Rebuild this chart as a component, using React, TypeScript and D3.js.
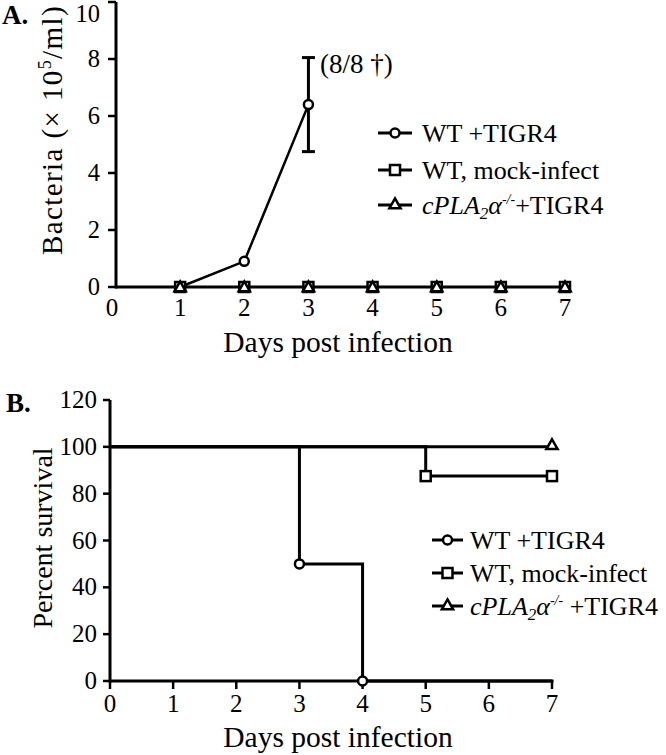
import React, { useEffect, useRef } from 'react'
import * as d3 from 'd3'

// Panel A: bacteria in blood (x 10^5/ml)
const days = [1, 2, 3, 4, 5, 6, 7]
const wtTigr4Days = [1, 2, 3]
const wtTigr4Bacteria = [0, 0.9, 6.4]
const wtTigr4Err = [0, 0, 1.65]
const mockBacteria = [0, 0, 0, 0, 0, 0, 0]
const cplaBacteria = [0, 0, 0, 0, 0, 0, 0]
const bacteriaTicks = [0, 2, 4, 6, 8, 10]
const dayTicks = [0, 1, 2, 3, 4, 5, 6, 7]

// Panel B: survival (step curves)
const wtTigr4SurvDays = [0, 3, 4, 7]
const wtTigr4Surv = [100, 50, 0, 0]
const wtTigr4SurvMarks = [3, 4]
const mockSurvDays = [0, 5, 7]
const mockSurv = [100, 87.5, 87.5]
const mockSurvMarks = [5, 7]
const cplaSurvDays = [0, 7]
const cplaSurv = [100, 100]
const cplaSurvMarks = [7]
const survivalTicks = [0, 20, 40, 60, 80, 100, 120]

const FONT = '"Liberation Serif", "Times New Roman", serif'

const App = () => {
  const ref = useRef(null)

  useEffect(() => {
    const svg = d3.select(ref.current)
    svg.selectAll('*').remove()

    const marker = (g, type, cx, cy) => {
      if (type === 'circle') {
        g.append('circle')
          .attr('cx', cx).attr('cy', cy).attr('r', 4.5)
          .attr('fill', '#fff').attr('stroke', '#000').attr('stroke-width', 2.5)
      } else if (type === 'square') {
        g.append('rect')
          .attr('x', cx - 5).attr('y', cy - 5).attr('width', 10).attr('height', 10)
          .attr('fill', '#fff').attr('stroke', '#000').attr('stroke-width', 2.5)
      } else {
        const s = d3.symbol().type(d3.symbolTriangle).size(55)
        g.append('path')
          .attr('d', s())
          .attr('transform', `translate(${cx},${cy})`)
          .attr('fill', '#fff').attr('stroke', '#000').attr('stroke-width', 2.5)
      }
    }

    const txt = (x, y, s, size, anchor = 'start') =>
      svg.append('text')
        .attr('x', x).attr('y', y)
        .attr('text-anchor', anchor)
        .style('font-family', FONT)
        .style('font-size', `${size}px`)
        .text(s)

    const legendLabel = (x, y, gap) => {
      const t = svg.append('text')
        .attr('x', x).attr('y', y)
        .style('font-family', FONT)
        .style('font-size', '26px')
      t.append('tspan').style('font-style', 'italic').text('cPLA')
      t.append('tspan').style('font-style', 'italic').style('font-size', '17px').attr('dy', 5).text('2')
      t.append('tspan').style('font-style', 'italic').attr('dy', -5).text('α')
      t.append('tspan').style('font-style', 'italic').style('font-size', '14px').attr('dy', -10).text('-/-')
      t.append('tspan').attr('dy', 10).text(gap ? ' +TIGR4' : '+TIGR4')
    }

    const legend = (x0, x1, tx, ys, gap) => {
      const names = ['WT +TIGR4', 'WT, mock-infect', null]
      const types = ['circle', 'square', 'triangle']
      const g = svg.append('g')
      ys.forEach((y, i) => {
        g.append('line')
          .attr('x1', x0).attr('x2', x1).attr('y1', y).attr('y2', y)
          .attr('stroke', '#000').attr('stroke-width', 3)
        marker(g, types[i], (x0 + x1) / 2, y)
        if (names[i]) txt(tx, y + 9, names[i], 26)
        else legendLabel(tx, y + 9, gap)
      })
    }

    // ---------- Panel A ----------
    const xA = d3.scaleLinear().domain([0, 7]).range([116, 565])
    const yA = d3.scaleLinear().domain([0, 10]).range([287, 2])
    const gA = svg.append('g')

    // axes
    gA.append('line').attr('x1', xA(0)).attr('x2', xA(0)).attr('y1', yA(0) + 1.5).attr('y2', yA(10))
      .attr('stroke', '#000').attr('stroke-width', 3)
    gA.append('line').attr('x1', xA(0)).attr('x2', xA(7)).attr('y1', yA(0)).attr('y2', yA(0))
      .attr('stroke', '#000').attr('stroke-width', 3)
    bacteriaTicks.forEach((t) => {
      gA.append('line').attr('x1', xA(0) - 8).attr('x2', xA(0)).attr('y1', yA(t)).attr('y2', yA(t))
        .attr('stroke', '#000').attr('stroke-width', 2.5)
      // top label sits a little below its tick so it stays inside the page
      txt(xA(0) - 16, Math.max(yA(t) + 8, 22), String(t), 24.5, 'end')
    })
    dayTicks.forEach((t) => txt(t === 0 ? xA(t) - 4 : xA(t), yA(0) + 29, String(t), 25, 'middle'))
    txt(338, 352, 'Days post infection', 29.5, 'middle')

    const yLab = svg.append('text')
      .attr('transform', 'translate(62,130) rotate(-90)')
      .attr('text-anchor', 'middle')
      .style('font-family', FONT)
      .style('font-size', '29px')
      .style('letter-spacing', '1.4px')
    yLab.append('tspan').text('Bacteria (× 10')
    yLab.append('tspan').style('font-size', '18px').attr('dy', -11).text('5')
    yLab.append('tspan').attr('dy', 11).text('/ml)')

    svg.append('text').attr('x', 2).attr('y', 24)
      .style('font-family', FONT).style('font-size', '27px').style('font-weight', 'bold').text('A.')

    // WT+TIGR4 line and error bar
    const lineA = d3.line().x((d) => xA(d[0])).y((d) => yA(d[1]))
    const wtPts = wtTigr4Days.map((d, i) => [d, wtTigr4Bacteria[i]])
    gA.append('path').attr('d', lineA(wtPts)).attr('fill', 'none').attr('stroke', '#000').attr('stroke-width', 2.5)
    wtTigr4Days.forEach((d, i) => {
      const e = wtTigr4Err[i]
      if (!e) return
      const cx = xA(d)
      const lo = yA(wtTigr4Bacteria[i] - e)
      const hi = yA(wtTigr4Bacteria[i] + e)
      gA.append('line').attr('x1', cx).attr('x2', cx).attr('y1', lo).attr('y2', hi)
        .attr('stroke', '#000').attr('stroke-width', 3)
      ;[lo, hi].forEach((y) => gA.append('line').attr('x1', cx - 6.5).attr('x2', cx + 6.5).attr('y1', y).attr('y2', y)
        .attr('stroke', '#000').attr('stroke-width', 3))
    })
    wtPts.forEach((p) => marker(gA, 'circle', xA(p[0]), yA(p[1])))
    days.forEach((d, i) => marker(gA, 'square', xA(d), yA(mockBacteria[i])))
    days.forEach((d, i) => marker(gA, 'triangle', xA(d), yA(cplaBacteria[i]) + 1))
    txt(320, 73, '(8/8 †)', 27)

    legend(378, 412, 422, [133, 170, 205], false)

    // ---------- Panel B ----------
    const xB = d3.scaleLinear().domain([0, 7]).range([110, 552])
    const yB = d3.scaleLinear().domain([0, 120]).range([681, 400])
    const gB = svg.append('g')

    gB.append('line').attr('x1', xB(0)).attr('x2', xB(0)).attr('y1', yB(0) + 1.5).attr('y2', yB(120))
      .attr('stroke', '#000').attr('stroke-width', 3)
    gB.append('line').attr('x1', xB(0)).attr('x2', xB(7) + 1.5).attr('y1', yB(0)).attr('y2', yB(0))
      .attr('stroke', '#000').attr('stroke-width', 3)
    survivalTicks.forEach((t) => {
      gB.append('line').attr('x1', xB(0) - 7).attr('x2', xB(0)).attr('y1', yB(t)).attr('y2', yB(t))
        .attr('stroke', '#000').attr('stroke-width', 2.5)
      txt(xB(0) - 13, yB(t) + 8, String(t), 25, 'end')
    })
    dayTicks.forEach((t) => {
      gB.append('line').attr('x1', xB(t)).attr('x2', xB(t)).attr('y1', yB(0)).attr('y2', yB(0) + 8)
        .attr('stroke', '#000').attr('stroke-width', 2.5)
      txt(xB(t), yB(0) + 31, String(t), 25, 'middle')
    })
    txt(338, 747, 'Days post infection', 29.5, 'middle')
    svg.append('text')
      .attr('transform', 'translate(52,538) rotate(-90)')
      .attr('text-anchor', 'middle')
      .style('font-family', FONT)
      .style('font-size', '28px')
      .text('Percent survival')
    svg.append('text').attr('x', 6).attr('y', 412)
      .style('font-family', FONT).style('font-size', '27px').style('font-weight', 'bold').text('B.')

    const stepB = d3.line().curve(d3.curveStepAfter).x((d) => xB(d[0])).y((d) => yB(d[1]))
    const curves = [
      { t: wtTigr4SurvDays, v: wtTigr4Surv, m: wtTigr4SurvMarks, type: 'circle' },
      { t: mockSurvDays, v: mockSurv, m: mockSurvMarks, type: 'square' },
      { t: cplaSurvDays, v: cplaSurv, m: cplaSurvMarks, type: 'triangle' },
    ]
    curves.forEach((c) => {
      const pts = c.t.map((d, i) => [d, c.v[i]])
      gB.append('path').attr('d', stepB(pts)).attr('fill', 'none').attr('stroke', '#000').attr('stroke-width', 3)
    })
    curves.forEach((c) => {
      c.m.forEach((d) => {
        const i = c.t.indexOf(d)
        marker(gB, c.type, xB(d), yB(c.v[i]) + (c.type === 'triangle' ? -1 : 0))
      })
    })

    legend(432, 463, 470, [540, 573, 606], true)
  }, [])

  return (
    <div style={{ position: 'absolute', left: 0, top: 0 }}>
      <svg ref={ref} width={666} height={755} style={{ display: 'block', background: '#fff' }} />
    </div>
  )
}

export default App
